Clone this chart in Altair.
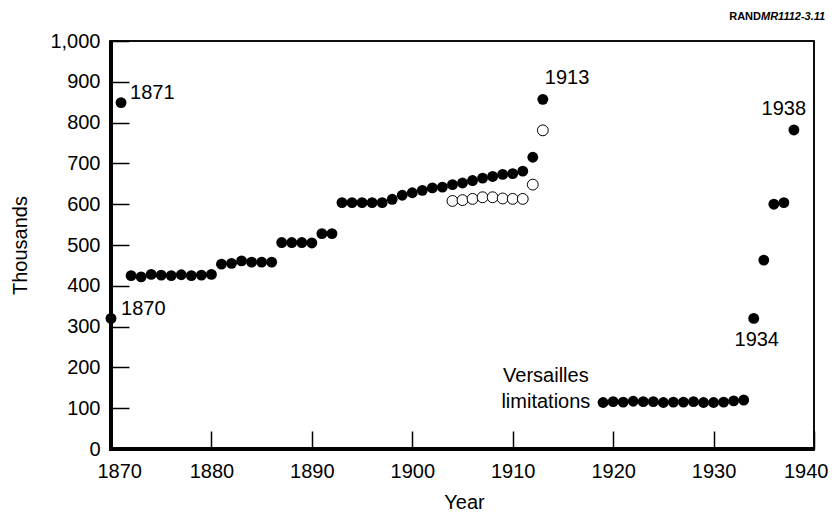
import altair as alt
import pandas as pd

# ---- data ----
filled_years = [1870, 1871, 1872, 1873, 1874, 1875, 1876, 1877, 1878, 1879,
                1880, 1881, 1882, 1883, 1884, 1885, 1886, 1887, 1888, 1889,
                1890, 1891, 1892, 1893, 1894, 1895, 1896, 1897, 1898, 1899,
                1900, 1901, 1902, 1903, 1904, 1905, 1906, 1907, 1908, 1909,
                1910, 1911, 1912, 1913,
                1919, 1920, 1921, 1922, 1923, 1924, 1925, 1926, 1927, 1928,
                1929, 1930, 1931, 1932, 1933, 1934, 1935, 1936, 1937, 1938]
filled_values = [320, 849, 425, 422, 428, 426, 425, 427, 425, 426,
                 428, 453, 455, 461, 458, 458, 458, 506, 506, 506,
                 505, 528, 528, 604, 604, 604, 604, 604, 612, 622,
                 628, 634, 640, 642, 648, 652, 658, 664, 668, 673,
                 675, 681, 715, 857,
                 114, 116, 115, 117, 116, 116, 114, 115, 115, 116,
                 114, 114, 115, 118, 120, 320, 463, 600, 604, 782]

open_years = [1904, 1905, 1906, 1907, 1908, 1909, 1910, 1911, 1912, 1913]
open_values = [608, 610, 613, 617, 617, 614, 613, 613, 648, 781]

x_ticks = [1870, 1880, 1890, 1900, 1910, 1920, 1930, 1940]
y_ticks = [0, 100, 200, 300, 400, 500, 600, 700, 800, 900, 1000]

left_labels = ["1870", "1871", "1913"]
left_label_x = [1871.0, 1871.9, 1913.2]
left_label_y = [343, 872, 909]

center_labels = ["1938", "1934", "Versailles", "limitations"]
center_label_x = [1937.0, 1934.3, 1913.3, 1913.3]
center_label_y = [833, 267, 179, 115]

# plot frame, in data units
x_min, x_max = 1870, 1940
y_min, y_max = 0, 1000

df_filled = pd.DataFrame({"year": filled_years, "value": filled_values})
df_open = pd.DataFrame({"year": open_years, "value": open_values})
df_left = pd.DataFrame({"label": left_labels, "year": left_label_x, "value": left_label_y})
df_center = pd.DataFrame({"label": center_labels, "year": center_label_x, "value": center_label_y})

W, H = 703, 408
FONT = "Liberation Sans"

# frame bars (thick left/bottom, thin top/right) as filled rectangles in data units
tx = 0.2 * (x_max - x_min) / 70      # ~2 px half-thickness along x
ty = 5.0 * (y_max - y_min) / 1000    # ~2 px half-thickness along y
df_frame = pd.DataFrame({
    "x":  [x_min - tx, x_min - tx, x_min - tx * 0.4, x_max - tx * 0.4],
    "x2": [x_min + tx, x_max + tx * 0.4, x_max + tx * 0.4, x_max + tx * 0.4],
    "y":  [y_min - ty, y_min - ty, y_max - ty * 0.4, y_min],
    "y2": [y_max + ty * 0.4, y_min + ty, y_max + ty * 0.4, y_max],
})

x_scale = alt.Scale(domain=[x_min, x_max], nice=False, zero=False)
y_scale = alt.Scale(domain=[y_min, y_max], nice=False)

x_enc = alt.X("year:Q", scale=x_scale,
              axis=alt.Axis(values=x_ticks, format="d", offset=-18, tickSize=18,
                            tickWidth=1.5, tickColor="black", domain=False, grid=False,
                            labelFlush=True, labelFlushOffset=14, labelOverlap=False,
                            labelPadding=12, labelFontSize=20, labelColor="black",
                            labelFont=FONT, titleFont=FONT,
                            title="Year", titleFontSize=20, titleFontWeight="normal",
                            titleColor="black", titleX=353, titleY=71,
                            titleAlign="center", titleBaseline="middle"))
y_enc = alt.Y("value:Q", scale=y_scale,
              axis=alt.Axis(values=y_ticks, format=",d", offset=-18, tickSize=18,
                            tickWidth=1.5, tickColor="black", domain=False, grid=False,
                            labelFlush=False, labelOverlap=False,
                            labelPadding=11, labelFontSize=20, labelColor="black",
                            labelFont=FONT, titleFont=FONT,
                            title="Thousands", titleFontSize=20, titleFontWeight="normal",
                            titleColor="black", titleX=-109, titleY=H / 2,
                            titleAlign="center", titleBaseline="middle", titleAngle=-90))

xp = alt.X("year:Q", scale=x_scale)
yp = alt.Y("value:Q", scale=y_scale)

frame = alt.Chart(df_frame).mark_rect(color="black", opacity=1).encode(
    x=alt.X("x:Q", scale=x_scale), x2="x2:Q",
    y=alt.Y("y:Q", scale=y_scale), y2="y2:Q")

filled = alt.Chart(df_filled).mark_circle(size=118, color="black", opacity=1).encode(
    x=x_enc, y=y_enc)

opened = alt.Chart(df_open).mark_point(shape="circle", size=118, filled=False,
                                       fill="white", fillOpacity=1, stroke="black",
                                       strokeWidth=1, opacity=1).encode(x=xp, y=yp)

left_text = alt.Chart(df_left).mark_text(align="left", baseline="middle", fontSize=20,
                                         font=FONT, color="black").encode(
    x=xp, y=yp, text="label:N")

center_text = alt.Chart(df_center).mark_text(align="center", baseline="middle", fontSize=20,
                                             font=FONT, color="black").encode(
    x=xp, y=yp, text="label:N")

rand1 = alt.Chart(pd.DataFrame({"t": ["RAND"]})).mark_text(
    align="right", baseline="middle", fontSize=11, fontWeight="bold", font=FONT,
    color="black").encode(text="t:N", x=alt.value(650), y=alt.value(-24))
rand2 = alt.Chart(pd.DataFrame({"t": ["MR1112-3.11"]})).mark_text(
    align="left", baseline="middle", fontSize=11, fontWeight="bold", fontStyle="italic",
    font=FONT, color="black").encode(text="t:N", x=alt.value(650), y=alt.value(-24))

chart = alt.layer(filled, frame, opened, left_text, center_text, rand1, rand2).properties(
    width=W, height=H,
    autosize=alt.AutoSizeParams(type="none"),
    padding={"left": 103, "top": 33, "right": 14, "bottom": 62},
).configure_view(stroke="black", strokeWidth=1.5)

chart.save("out.html", embed_options={"renderer": "svg", "actions": False})
